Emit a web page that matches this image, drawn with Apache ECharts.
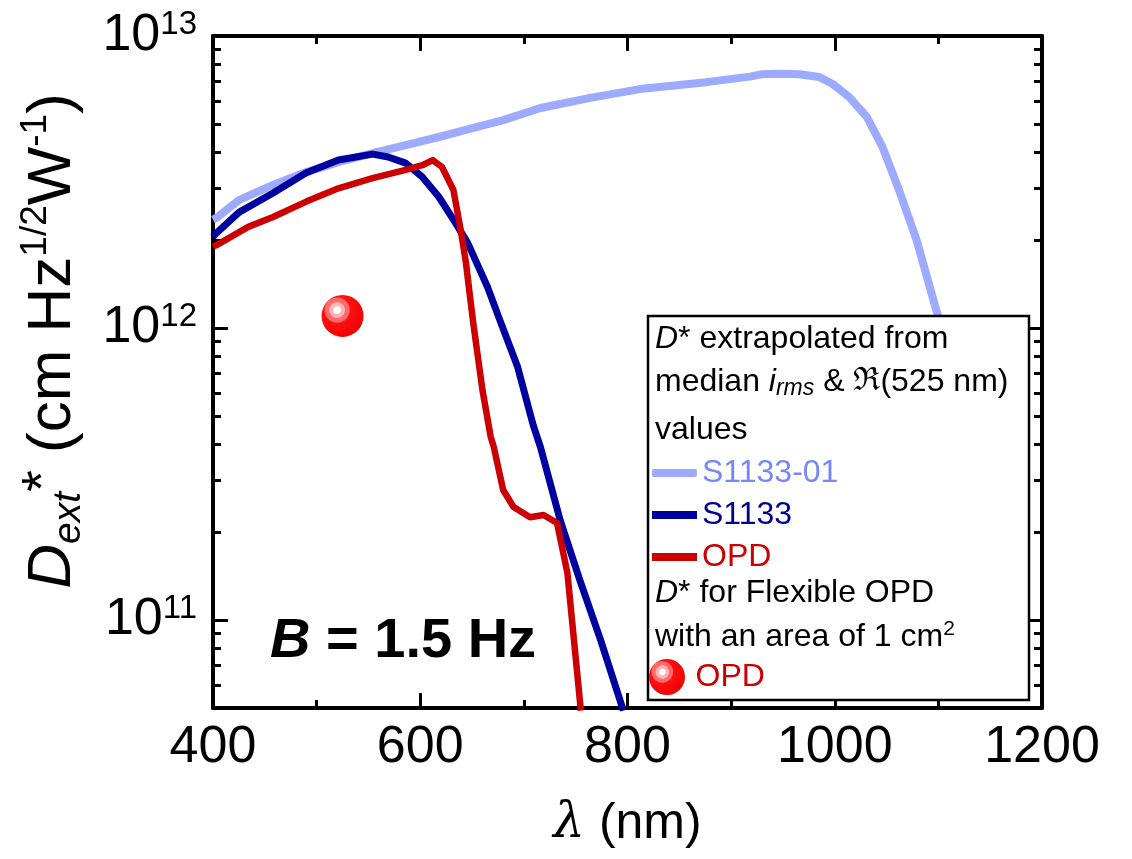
<!DOCTYPE html>
<html>
<head>
<meta charset="utf-8">
<script src="https://cdn.jsdelivr.net/npm/echarts@6/dist/echarts.min.js"></script>
<style>
html,body{margin:0;padding:0;background:#fff;}
#chart{width:1132px;height:859px;}
</style>
</head>
<body>
<div id="chart"></div>
<script>
// ---- data ----
const lambdaS113301 = [400, 403, 425, 458, 490, 521, 554, 586, 618, 644, 680, 716, 764, 812, 876, 918, 930, 948, 966, 985, 998, 1014, 1031, 1046, 1062, 1079, 1098, 1110];
const dS113301 = [2.35e12, 2.38e12, 2.74e12, 3.09e12, 3.42e12, 3.70e12, 3.97e12, 4.23e12, 4.51e12, 4.77e12, 5.15e12, 5.67e12, 6.14e12, 6.58e12, 6.95e12, 7.26e12, 7.40e12, 7.42e12, 7.40e12, 7.24e12, 6.85e12, 6.18e12, 5.28e12, 4.17e12, 2.97e12, 2.00e12, 1.15e12, 8.5e11];

const lambdaS1133 = [400, 403, 425, 458, 490, 521, 554, 569, 586, 602, 618, 634, 646, 665, 677, 694, 709, 716, 735, 754, 774, 796];
const dS1133 = [2.05e12, 2.11e12, 2.49e12, 2.90e12, 3.40e12, 3.76e12, 3.94e12, 3.85e12, 3.67e12, 3.29e12, 2.81e12, 2.29e12, 1.95e12, 1.38e12, 1.06e12, 7.35e11, 4.65e11, 3.91e11, 2.20e11, 1.37e11, 8.55e10, 4.9e10];

const lambdaOPD = [400, 403, 434, 458, 490, 521, 554, 586, 602, 612, 621, 632, 639, 644, 651, 660, 668, 671, 680, 690, 706, 719, 732, 742, 755];
const dOPD = [1.90e12, 1.92e12, 2.22e12, 2.40e12, 2.71e12, 3.01e12, 3.26e12, 3.48e12, 3.61e12, 3.76e12, 3.56e12, 2.97e12, 2.17e12, 1.68e12, 1.05e12, 6.14e11, 4.24e11, 3.91e11, 2.79e11, 2.44e11, 2.25e11, 2.29e11, 2.15e11, 1.45e11, 4.9e10];

const flexLambda = [525];
const flexD = [1.1e12];

const xTicks = [400, 600, 800, 1000, 1200];
const yMajorTicks = [1e11, 1e12, 1e13];
const yMinorTicks = [6e10, 7e10, 8e10, 9e10, 2e11, 3e11, 4e11, 5e11, 6e11, 7e11, 8e11, 9e11, 2e12, 3e12, 4e12, 5e12, 6e12, 7e12, 8e12, 9e12];

// ---- styling ----
const F = 'Liberation Sans, Arial, sans-serif';
const C_LIGHT = '#9caaff';
const C_DARK = '#0000a0';
const C_RED = '#cc0000';

const zip = (xs, ys) => xs.map((x, i) => [x, ys[i]]);

const sphere = {
  type: 'radial', x: 0.37, y: 0.36, r: 0.68,
  colorStops: [
    { offset: 0, color: '#ffffff' }, { offset: 0.12, color: '#ffffff' },
    { offset: 0.15, color: '#ffb4b4' }, { offset: 0.26, color: '#ffb4b4' },
    { offset: 0.29, color: '#ff6a6a' }, { offset: 0.42, color: '#ff6a6a' },
    { offset: 0.46, color: '#ff1010' }, { offset: 1, color: '#f00000' }
  ]
};

const yLog = {
  type: 'log', logBase: 10, min: 5e10, max: 1e13,
  splitLine: { show: false }, minorTick: { show: false }, minorSplitLine: { show: false }
};
function yAx(pos, major, labels) {
  return Object.assign({}, yLog, {
    position: pos,
    axisLine: { show: major, onZero: false, lineStyle: { color: '#000', width: 4 } },
    axisTick: { show: true, inside: true, length: major ? 15 : 8,
      customValues: major ? yMajorTicks : yMinorTicks,
      lineStyle: { color: '#000', width: 3 } },
    axisLabel: labels ? {
      show: true, margin: 16, customValues: yMajorTicks,
      formatter: function (v) {
        const e = Math.round(Math.log10(v));
        return '{b|10}{s|' + e + '}';
      },
      rich: {
        b: { fontSize: 52, fontFamily: F, color: '#000', lineHeight: 56 },
        s: { fontSize: 33, fontFamily: F, color: '#000', lineHeight: 34, verticalAlign: 'top' }
      }
    } : { show: false }
  });
}
function xAx(pos, labels) {
  const a = {
    type: 'value', min: 400, max: 1200, interval: 200, position: pos,
    axisLine: { show: true, onZero: false, lineStyle: { color: '#000', width: 4 } },
    axisTick: { show: true, inside: true, length: 15, lineStyle: { color: '#000', width: 3 } },
    minorTick: { show: true, splitNumber: 2, length: 8, lineStyle: { color: '#000', width: 3 } },
    splitLine: { show: false }, minorSplitLine: { show: false },
    axisLabel: labels ? { show: true, fontSize: 52, fontFamily: F, color: '#000', margin: 14,
      customValues: xTicks, formatter: function (v) { return String(v); } } : { show: false }
  };
  if (labels) {
    a.name = '{l|λ}{n| (nm)}';
    a.nameLocation = 'middle';
    a.nameGap = 86;
    a.nameTextStyle = {
      rich: {
        l: { fontSize: 50, fontFamily: 'DejaVu Serif, serif', fontStyle: 'italic', color: '#000', lineHeight: 60 },
        n: { fontSize: 50, fontFamily: F, color: '#000', lineHeight: 60 }
      }
    };
  }
  return a;
}

const yMain = yAx('left', true, true);
yMain.name = '{i|D}{sub|ext}{st|*}{n| (cm Hz}{sup|1/2}{n|W}{sup|-1}{n|)}';
yMain.nameLocation = 'middle';
yMain.nameGap = 124;
yMain.nameTextStyle = {
  padding: [0, 0, 0, 62],
  rich: {
    i: { fontSize: 62, fontFamily: F, fontStyle: 'italic', color: '#000', lineHeight: 72 },
    sub: { fontSize: 39, fontFamily: F, fontStyle: 'italic', color: '#000', lineHeight: 38, verticalAlign: 'bottom' },
    st: { fontSize: 56, fontFamily: F, color: '#000', lineHeight: 50, verticalAlign: 'top' },
    n: { fontSize: 62, fontFamily: F, color: '#000', lineHeight: 72 },
    sup: { fontSize: 37, fontFamily: F, color: '#000', lineHeight: 38, verticalAlign: 'top' }
  }
};

const LF = 32;
const legendText = { fontSize: LF, fontFamily: F, lineHeight: 30 };
const richLeg = {
  i: { fontSize: LF, fontFamily: F, fontStyle: 'italic', fill: '#000', lineHeight: 36 },
  n: { fontSize: LF, fontFamily: F, fill: '#000', lineHeight: 36 },
  sub: { fontSize: 23, fontFamily: F, fontStyle: 'italic', fill: '#000', lineHeight: 22, verticalAlign: 'bottom' },
  sup: { fontSize: 21, fontFamily: F, fill: '#000', lineHeight: 24, verticalAlign: 'top' },
  sym: { fontSize: LF, fontFamily: 'DejaVu Serif, serif', fill: '#000', lineHeight: 36 }
};
function legLine(text, y) {
  return { type: 'text', z: 20, style: { text: text, x: 655, y: y, verticalAlign: 'middle', rich: richLeg, font: LF + 'px ' + F } };
}

const option = {
  animation: false,
  backgroundColor: '#fff',
  grid: { left: 213, right: 90, top: 36, bottom: 151 },
  xAxis: [xAx('bottom', true), xAx('top', false)],
  yAxis: [yMain, yAx('left', false, false), yAx('right', true, false), yAx('right', false, false)],
  legend: [
    {
      orient: 'vertical', left: 652, top: 457, padding: 0, itemGap: 10,
      itemWidth: 45, itemHeight: 8, selectedMode: false, z: 20,
      textStyle: legendText,
      data: [
        { name: 'S1133-01', icon: 'roundRect', textStyle: { color: '#7686fb' } },
        { name: 'S1133', icon: 'rect', textStyle: { color: '#000090' } },
        { name: 'OPD', icon: 'rect', textStyle: { color: C_RED } }
      ]
    },
    {
      orient: 'vertical', left: 649, top: 659, padding: 0,
      itemWidth: 47, itemHeight: 36, selectedMode: false, z: 20,
      textStyle: legendText,
      formatter: function () { return 'OPD'; },
      data: [{ name: 'OPD flexible', icon: 'circle', textStyle: { color: C_RED } }]
    }
  ],
  graphic: [
    { type: 'rect', z: 10, shape: { x: 648, y: 316, width: 381, height: 384 },
      style: { fill: '#fff', stroke: '#000', lineWidth: 2.5 } },
    legLine('{i|D}{n|* extrapolated from}', 339),
    legLine('{n|median }{i|i}{sub|rms}{n| & }{sym|ℜ}{n|(525 nm)}', 382),
    legLine('{n|values}', 430),
    legLine('{i|D}{n|* for Flexible OPD}', 593),
    legLine('{n|with an area of 1 cm}{sup|2}', 637),
    { type: 'text', z: 20, style: {
        text: '{bi|B}{b| = 1.5 Hz}', x: 270, y: 642, verticalAlign: 'middle',
        rich: {
          bi: { fontSize: 56, fontFamily: F, fontWeight: 'bold', fontStyle: 'italic', fill: '#000' },
          b: { fontSize: 56, fontFamily: F, fontWeight: 'bold', fill: '#000' }
        }
      } }
  ],
  series: [
    { name: 'S1133-01', type: 'line', data: zip(lambdaS113301, dS113301), showSymbol: false, symbol: 'none',
      color: C_LIGHT, lineStyle: { color: C_LIGHT, width: 8, join: 'round' }, z: 2 },
    { name: 'S1133', type: 'line', data: zip(lambdaS1133, dS1133), showSymbol: false, symbol: 'none',
      color: C_DARK, lineStyle: { color: C_DARK, width: 7, join: 'round' }, z: 3 },
    { name: 'OPD', type: 'line', data: zip(lambdaOPD, dOPD), showSymbol: false, symbol: 'none',
      color: C_RED, lineStyle: { color: C_RED, width: 6.5, join: 'round' }, z: 4 },
    { name: 'OPD flexible', type: 'scatter', data: zip(flexLambda, flexD), symbol: 'circle', symbolSize: 42,
      itemStyle: { color: sphere, opacity: 1 }, z: 5 }
  ]
};

const chart = echarts.init(document.getElementById('chart'), null, { renderer: 'canvas' });
chart.setOption(option);
</script>
</body>
</html>
